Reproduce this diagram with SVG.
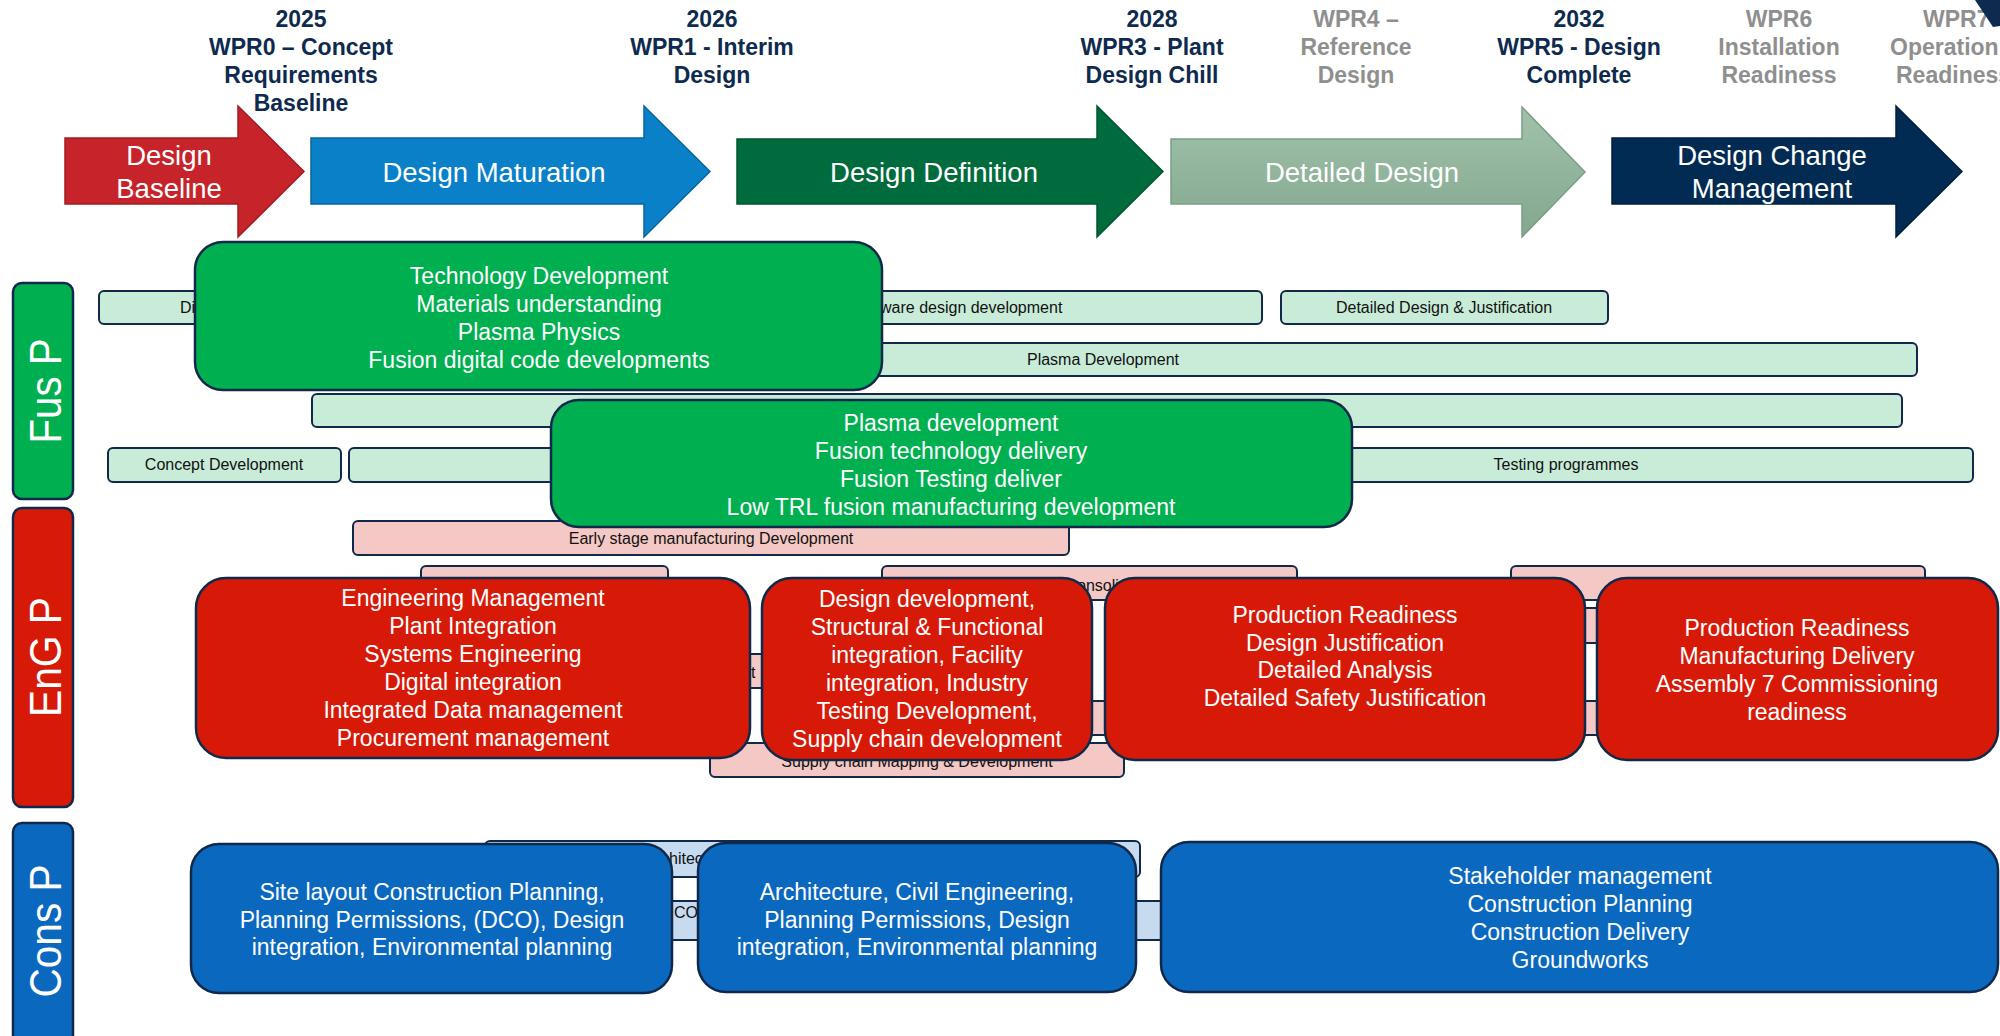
<svg xmlns="http://www.w3.org/2000/svg" width="2000" height="1036" viewBox="0 0 2000 1036">
<style>
text{font-family:'Liberation Sans',Arial,sans-serif}
.hdr{font-size:23px;font-weight:bold;fill:#0e2a4f;text-anchor:middle}
.hdrg{font-size:23px;font-weight:bold;fill:#8f8f8f;text-anchor:middle}
.arr{font-size:27.5px;fill:#fff;text-anchor:middle}
.lane{font-size:44px;fill:#fff;text-anchor:middle}
.bar{stroke:#10294a;stroke-width:2}
.bg{fill:#c8ecd8}
.br{fill:#f4c8c4}
.bb{fill:#c6dbef}
.box{stroke:#10294a;stroke-width:2.5}
.xg{fill:#00b050}
.xr{fill:#d71a08}
.xb{fill:#0a68bf}
.sm{font-size:16px;fill:#111}
.smc{font-size:16px;fill:#111;text-anchor:middle}
.bt{font-size:23px;fill:#fff;text-anchor:middle}
</style>
<defs>
<linearGradient id="lg" x1="0" y1="0" x2="0" y2="1">
<stop offset="0" stop-color="#a2c1ac"/>
<stop offset="1" stop-color="#82a88e"/>
</linearGradient>
</defs>
<rect width="2000" height="1036" fill="#fff"/>

<g id="milestones">
<text class="hdr"><tspan x="301" y="27">2025</tspan><tspan x="301" y="55">WPR0 – Concept</tspan><tspan x="301" y="83">Requirements</tspan><tspan x="301" y="110.5">Baseline</tspan></text>
<text class="hdr"><tspan x="712" y="27">2026</tspan><tspan x="712" y="55">WPR1 - Interim</tspan><tspan x="712" y="83">Design</tspan></text>
<text class="hdr"><tspan x="1152" y="27">2028</tspan><tspan x="1152" y="55">WPR3 - Plant</tspan><tspan x="1152" y="83">Design Chill</tspan></text>
<text class="hdrg"><tspan x="1356" y="27">WPR4 –</tspan><tspan x="1356" y="55">Reference</tspan><tspan x="1356" y="83">Design</tspan></text>
<text class="hdr"><tspan x="1579" y="27">2032</tspan><tspan x="1579" y="55">WPR5 - Design</tspan><tspan x="1579" y="83">Complete</tspan></text>
<text class="hdrg"><tspan x="1779" y="27">WPR6</tspan><tspan x="1779" y="55">Installation</tspan><tspan x="1779" y="83">Readiness</tspan></text>
<text class="hdrg" style="text-anchor:start"><tspan x="1923" y="27">WPR7</tspan><tspan x="1890" y="55">Operation</tspan><tspan x="1896" y="83">Readiness</tspan></text>
<polygon points="1975,0 2000,0 2000,26 1993,27" fill="#0e2a4f"/>
</g>

<g id="phase-arrows">
<g id="arrow-design-baseline">
<path d="M65,138 H238 V106 L304,171.5 L238,237 V204 H65 Z" fill="#c6232b" stroke="#a01c22" stroke-width="1.5"/>
<text class="arr"><tspan x="169" y="165">Design</tspan><tspan x="169" y="198">Baseline</tspan></text>
</g>
<g id="arrow-design-maturation">
<path d="M311,138 H644 V106 L710,171.5 L644,237 V204 H311 Z" fill="#0a80c8" stroke="#0864a0" stroke-width="1.5"/>
<text class="arr" x="494" y="182">Design Maturation</text>
</g>
<g id="arrow-design-definition">
<path d="M737,139 H1097 V106 L1163,171.5 L1097,237 V204 H737 Z" fill="#006b3c" stroke="#00552f" stroke-width="1.5"/>
<text class="arr" x="934" y="182">Design Definition</text>
</g>
<g id="arrow-detailed-design">
<path d="M1171,139 H1522 V107 L1585,172 L1522,237 V204 H1171 Z" fill="url(#lg)" stroke="#7a9e86" stroke-width="1.5"/>
<text class="arr" x="1362" y="182">Detailed Design</text>
</g>
<g id="arrow-design-change">
<path d="M1612,138 H1896 V106 L1962,171.5 L1896,237 V204 H1612 Z" fill="#012b52" stroke="#001f3d" stroke-width="1.5"/>
<text class="arr"><tspan x="1772" y="165">Design Change</tspan><tspan x="1772" y="198">Management</tspan></text>
</g>
</g>

<g id="lane-labels">
<g id="lane-fus">
<rect x="13" y="283" width="60" height="216" rx="9" class="box xg"/>
<text class="lane" x="61" y="391" transform="rotate(-90 61 391)" textLength="105" lengthAdjust="spacingAndGlyphs">Fus P</text>
</g>
<g id="lane-eng">
<rect x="13" y="508" width="60" height="299" rx="9" class="box xr"/>
<text class="lane" x="61" y="657" transform="rotate(-90 61 657)" textLength="120" lengthAdjust="spacingAndGlyphs">EnG P</text>
</g>
<g id="lane-cons">
<rect x="13" y="823" width="60" height="230" rx="9" class="box xb"/>
<text class="lane" x="61" y="931" transform="rotate(-90 61 931)" textLength="133" lengthAdjust="spacingAndGlyphs">Cons P</text>
</g>
</g>

<g id="fus-bars">
<g id="bar-f1a"><rect x="99" y="291" width="541" height="33" rx="5" class="bar bg"/><text class="sm" x="180" y="313">Di</text></g>
<g id="bar-f1b"><rect x="654" y="291" width="608" height="33" rx="5" class="bar bg"/><text class="sm" x="880" y="313">ware design development</text></g>
<g id="bar-f1c"><rect x="1281" y="291" width="327" height="33" rx="5" class="bar bg"/><text class="smc" x="1444" y="313">Detailed Design &amp; Justification</text></g>
<g id="bar-f2"><rect x="289" y="343" width="1628" height="33" rx="5" class="bar bg"/><text class="smc" x="1103" y="365">Plasma Development</text></g>
<g id="bar-f3"><rect x="312" y="394" width="1590" height="33" rx="5" class="bar bg"/></g>
<g id="bar-f4a"><rect x="108" y="448" width="233" height="34" rx="5" class="bar bg"/><text class="smc" x="224" y="470">Concept Development</text></g>
<g id="bar-f4b"><rect x="349" y="448" width="751" height="34" rx="5" class="bar bg"/></g>
<g id="bar-f4c"><rect x="1120" y="448" width="853" height="34" rx="5" class="bar bg"/><text class="smc" x="1566" y="470">Testing programmes</text></g>
</g>

<g id="eng-bars">
<g id="bar-e1"><rect x="353" y="521" width="716" height="34" rx="5" class="bar br"/><text class="smc" x="711" y="544">Early stage manufacturing Development</text></g>
<g id="bar-e2a"><rect x="421" y="566" width="247" height="34" rx="5" class="bar br"/></g>
<g id="bar-e2b"><rect x="882" y="566" width="415" height="34" rx="5" class="bar br"/><text class="sm" x="1077" y="591">onsoli</text></g>
<g id="bar-e2c"><rect x="1511" y="566" width="414" height="34" rx="5" class="bar br"/></g>
<g id="bar-e3"><rect x="1200" y="608" width="700" height="35" rx="5" class="bar br"/></g>
<g id="bar-e4"><rect x="600" y="654" width="400" height="34" rx="5" class="bar br"/><text class="sm" x="751" y="678">t</text></g>
<g id="bar-e5"><rect x="900" y="701" width="850" height="34" rx="5" class="bar br"/></g>
<g id="bar-e6"><rect x="710" y="743" width="414" height="34" rx="5" class="bar br"/><text class="smc" x="917" y="767">Supply chain Mapping &amp; Development</text></g>
</g>

<g id="cons-bars">
<g id="bar-c1"><rect x="485" y="841" width="655" height="36" rx="5" class="bar bb"/><text class="sm" x="669" y="864">hitec</text></g>
<g id="bar-c2"><rect x="600" y="901" width="600" height="39" rx="5" class="bar bb"/><text class="sm" x="674" y="918">CO</text></g>
</g>

<g id="fus-boxes">
<g id="box-technology">
<rect x="195" y="242" width="687" height="148" rx="28" class="box xg"/>
<text class="bt"><tspan x="539" y="284">Technology Development</tspan><tspan x="539" y="312">Materials understanding</tspan><tspan x="539" y="340">Plasma Physics</tspan><tspan x="539" y="368">Fusion digital code developments</tspan></text>
</g>
<g id="box-plasma">
<rect x="551" y="400" width="801" height="127" rx="28" class="box xg"/>
<text class="bt"><tspan x="951" y="431">Plasma development</tspan><tspan x="951" y="459">Fusion technology delivery</tspan><tspan x="951" y="487">Fusion Testing deliver</tspan><tspan x="951" y="515">Low TRL fusion manufacturing development</tspan></text>
</g>
</g>

<g id="eng-boxes">
<g id="box-engineering">
<rect x="196" y="578" width="554" height="180" rx="30" class="box xr"/>
<text class="bt"><tspan x="473" y="606">Engineering Management</tspan><tspan x="473" y="634">Plant Integration</tspan><tspan x="473" y="662">Systems Engineering</tspan><tspan x="473" y="690">Digital integration</tspan><tspan x="473" y="718">Integrated Data management</tspan><tspan x="473" y="746">Procurement management</tspan></text>
</g>
<g id="box-design-dev">
<rect x="762" y="578" width="330" height="182" rx="30" class="box xr"/>
<text class="bt"><tspan x="927" y="607">Design development,</tspan><tspan x="927" y="635">Structural &amp; Functional</tspan><tspan x="927" y="663">integration, Facility</tspan><tspan x="927" y="691">integration, Industry</tspan><tspan x="927" y="719">Testing Development,</tspan><tspan x="927" y="747">Supply chain development</tspan></text>
</g>
<g id="box-production-1">
<rect x="1105" y="578" width="480" height="182" rx="30" class="box xr"/>
<text class="bt"><tspan x="1345" y="623">Production Readiness</tspan><tspan x="1345" y="651">Design Justification</tspan><tspan x="1345" y="678">Detailed Analysis</tspan><tspan x="1345" y="706">Detailed Safety Justification</tspan></text>
</g>
<g id="box-production-2">
<rect x="1597" y="578" width="401" height="182" rx="30" class="box xr"/>
<text class="bt"><tspan x="1797" y="636">Production Readiness</tspan><tspan x="1797" y="664">Manufacturing Delivery</tspan><tspan x="1797" y="692">Assembly 7 Commissioning</tspan><tspan x="1797" y="720">readiness</tspan></text>
</g>
</g>

<g id="cons-boxes">
<g id="box-site">
<rect x="191" y="844" width="481" height="149" rx="28" class="box xb"/>
<text class="bt"><tspan x="432" y="900">Site layout Construction Planning,</tspan><tspan x="432" y="928">Planning Permissions, (DCO), Design</tspan><tspan x="432" y="955">integration, Environmental planning</tspan></text>
</g>
<g id="box-architecture">
<rect x="698" y="843" width="438" height="149" rx="28" class="box xb"/>
<text class="bt"><tspan x="917" y="900">Architecture, Civil Engineering,</tspan><tspan x="917" y="928">Planning Permissions, Design</tspan><tspan x="917" y="955">integration, Environmental planning</tspan></text>
</g>
<g id="box-stakeholder">
<rect x="1161" y="842" width="837" height="150" rx="28" class="box xb"/>
<text class="bt"><tspan x="1580" y="884">Stakeholder management</tspan><tspan x="1580" y="912">Construction Planning</tspan><tspan x="1580" y="940">Construction Delivery</tspan><tspan x="1580" y="968">Groundworks</tspan></text>
</g>
</g>

<g id="connectors"></g>
</svg>
